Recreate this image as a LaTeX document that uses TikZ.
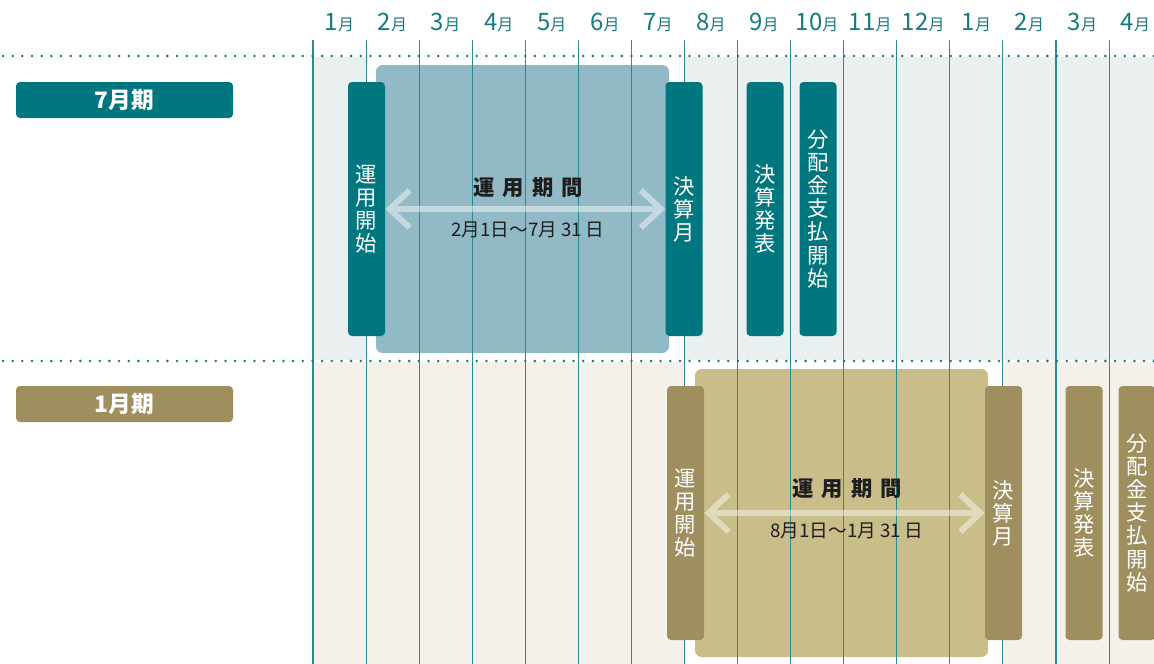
\documentclass[tikz,border=0pt]{standalone}
\usepackage{fontspec}
\setmainfont{Noto Sans CJK JP}
\usetikzlibrary{arrows.meta}

\definecolor{tealbar}{RGB}{0,119,127}
\definecolor{olivebar}{RGB}{159,143,94}
\definecolor{topshade}{RGB}{234,240,240}
\definecolor{botshade}{RGB}{244,241,234}
\definecolor{topblock}{RGB}{146,185,198}
\definecolor{botblock}{RGB}{201,190,138}
\definecolor{gridteal}{RGB}{40,140,145}
\definecolor{monthteal}{RGB}{22,122,130}
\definecolor{inktext}{RGB}{30,30,30}

\begin{document}
\begin{tikzpicture}[x=0.75pt,y=0.75pt,yscale=-1,xscale=1,
  gridline/.style={draw=gridteal,line width=0.8pt},
  dotmark/.style={fill=monthteal},
  eventbar/.style={rounded corners=3pt,inner sep=0pt,minimum width=27.75pt,minimum height=190.5pt,text=white,align=center,font=\fontsize{16}{17.3}\selectfont},
  periodtag/.style={rounded corners=3pt,inner sep=0pt,minimum width=162.75pt,minimum height=27pt,text=white,font=\bfseries\fontsize{17}{17}\selectfont},
  monthlbl/.style={text=monthteal,inner sep=0pt,anchor=base},
  spantitle/.style={text=inktext,inner sep=0pt,font=\bfseries\fontsize{16}{16}\selectfont},
  spandate/.style={text=inktext,inner sep=0pt,font=\fontsize{14}{14}\selectfont},
  spanarrow/.style={draw=white,line width=4.5pt,{Straight Barb[length=15pt,width=28pt]}-{Straight Barb[length=15pt,width=28pt]}},
]
\useasboundingbox (0,0) rectangle (1154,664);
\fill[white] (0,0) rectangle (1154,664);

%Shape: Rectangle [shaded rows]
\fill[topshade] (313,57) rectangle (366,360);
\fill[topshade] (685,57) rectangle (1154,360);
\fill[botshade] (313,362) rectangle (685,664);
\fill[botshade] (1003,362) rectangle (1154,664);

%Shape: Rectangle [period blocks]
\fill[topblock,rounded corners=5pt] (376,65) rectangle (669,353);
\fill[botblock,rounded corners=5pt] (695,369) rectangle (988,657);

%Grid lines and month labels
\foreach \i in {0,...,15}
  \draw[gridline] ({313+53.07*\i},40) -- ({313+53.07*\i},664);
\foreach \m [count=\i from 0] in {1,2,3,4,5,6,7,8,9,10,11,12,1,2,3,4}
  \node[monthlbl] (month\i) at ({339.5+53.07*\i},30) {{\fontsize{18}{18}\selectfont\m}{\fontsize{12}{12}\selectfont 月}};

%Dotted separators
\foreach \k in {0,...,119} {
  \fill[dotmark] ({3+9.67*\k},56) circle (1.4);
  \fill[dotmark] ({3+9.67*\k},361) circle (1.4);
}

% Text Node [period tags]
\node[periodtag,fill=tealbar] (tagjul) at (124.5,100) {7月期};
\node[periodtag,fill=olivebar] (tagjan) at (124.5,404) {1月期};

% Text Node [July term bars]
\node[eventbar,fill=tealbar] (startjul) at (366.5,209) {運\\用\\開\\始};
\node[eventbar,fill=tealbar] (closejul) at (684,209) {決\\算\\月};
\node[eventbar,fill=tealbar] (reportjul) at (765,209) {決\\算\\発\\表};
\node[eventbar,fill=tealbar] (payjul) at (818,209) {分\\配\\金\\支\\払\\開\\始};

% Text Node [January term bars]
\node[eventbar,fill=olivebar] (startjan) at (685.5,513) {運\\用\\開\\始};
\node[eventbar,fill=olivebar] (closejan) at (1003.5,513) {決\\算\\月};
\node[eventbar,fill=olivebar] (reportjan) at (1084,513) {決\\算\\発\\表};
\node[eventbar,fill=olivebar] (payjan) at (1137,513) {分\\配\\金\\支\\払\\開\\始};

%Arrows
\begin{scope}[transparency group,opacity=0.45]
\draw[spanarrow] (startjul.east) -- (closejul.west);
\draw[spanarrow] (startjan.east) -- (closejan.west);
\end{scope}

% Text Node [period spans]
\node[spantitle] (spanjul) at (528,188) {運\hspace{6pt}用\hspace{6pt}期\hspace{6pt}間};
\node[spandate] (datejul) at (528,230) {2月1日〜7月\hspace{3pt}31\hspace{3pt}日};
\node[spantitle] (spanjan) at (847,489) {運\hspace{6pt}用\hspace{6pt}期\hspace{6pt}間};
\node[spandate] (datejan) at (847,531) {8月1日〜1月\hspace{3pt}31\hspace{3pt}日};

\end{tikzpicture}
\end{document}
